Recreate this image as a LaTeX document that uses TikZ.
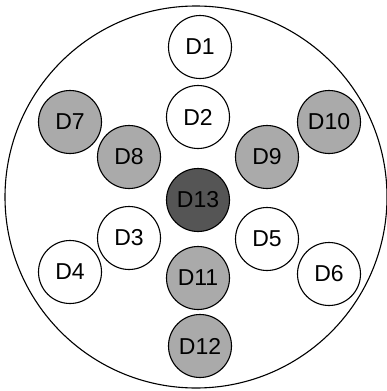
\documentclass[tikz,border=0pt]{standalone}
\usepackage{fontspec}
\setmainfont{Liberation Sans}
\definecolor{lightg}{RGB}{170,170,170}
\definecolor{darkg}{RGB}{85,85,85}
\begin{document}
\begin{tikzpicture}[x=1pt,y=-1pt,
  det/.style={circle,draw=black,line width=1.1pt,minimum size=63pt,inner sep=0pt,font=\fontsize{23}{23}\selectfont},
  wdet/.style={det,fill=white},
  gdet/.style={det,fill=lightg},
  ddet/.style={det,fill=darkg}]
\useasboundingbox (0,0) rectangle (387,391);
\node[circle,draw=black,line width=1.1pt,minimum size=382pt,inner sep=0pt] (outer) at (196,197) {};
\node[wdet] (d1) at (200,47) {D1};
\node[wdet] (d2) at (198,117) {D2};
\node[gdet] (d7) at (70,122) {D7};
\node[gdet] (d8) at (129,157) {D8};
\node[gdet] (d9) at (267,157) {D9};
\node[gdet] (d10) at (329,122) {D10};
\node[ddet] (d13) at (198,200) {D13};
\node[wdet] (d3) at (129,238) {D3};
\node[wdet] (d4) at (70,272) {D4};
\node[wdet] (d5) at (267,239) {D5};
\node[wdet] (d6) at (329,274) {D6};
\node[gdet] (d11) at (198,278) {D11};
\node[gdet] (d12) at (200,346) {D12};
\end{tikzpicture}
\end{document}
